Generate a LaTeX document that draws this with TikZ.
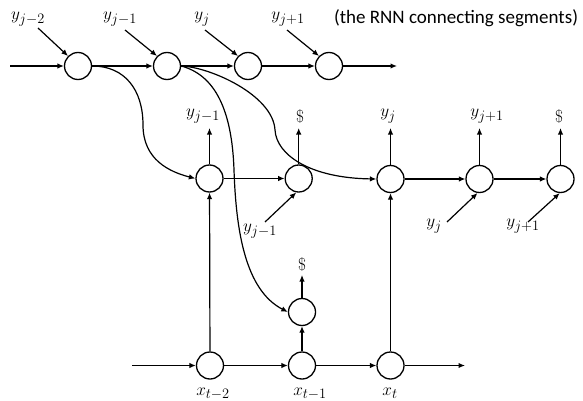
\documentclass[tikz,border=0pt]{standalone}
\usepackage{fontspec}
\newfontfamily\calib{Carlito}
\usetikzlibrary{arrows.meta}
\begin{document}
\begin{tikzpicture}[x=1pt,y=-1pt,
  cir/.style={circle,draw,line width=1.3pt,minimum size=27pt,inner sep=0pt},
  arr/.style={-{Latex[length=6.5pt,width=5.5pt]},line width=1.2pt},
  lab/.style={inner sep=0pt,font=\fontsize{19}{22}\selectfont},
  ttl/.style={inner sep=0pt,font=\calib\fontsize{19}{22}\selectfont}]
\useasboundingbox (0,0) rectangle (583,401);
% top row
\node[cir] (t1) at (78,66) {};
\node[cir] (t2) at (167,66) {};
\node[cir] (t3) at (248,66) {};
\node[cir] (t4) at (329,66) {};
% middle row
\node[cir] (m1) at (209.5,178.5) {};
\node[cir] (m2) at (298.7,178.5) {};
\node[cir] (m3) at (390.5,179) {};
\node[cir] (m4) at (479.5,179) {};
\node[cir] (m5) at (560.5,179) {};
% small
\node[cir] (s) at (302,312) {};
% bottom row
\node[cir] (b1) at (210,365.5) {};
\node[cir] (b2) at (302,365.5) {};
\node[cir] (b3) at (390.5,365.5) {};
% labels top
\node[lab] (ly1) at (28,19) {$y_{j-2}$};
\node[lab] (ly2) at (120,19) {$y_{j-1}$};
\node[lab] (ly3) at (202,19) {$y_{j}$};
\node[lab] (ly4) at (288,19) {$y_{j+1}$};
\node[ttl] (title) at (456,18) {(the RNN connecting segments)};
% labels middle top
\node[lab] (lm1) at (203,116) {$y_{j-1}$};
\node[lab] (lm2) at (300,117) {$\$$};
\node[lab] (lm3) at (388,116) {$y_{j}$};
\node[lab] (lm4) at (487,116) {$y_{j+1}$};
\node[lab] (lm5) at (559,116) {$\$$};
% labels middle bottom
\node[lab] (ln2) at (260,231) {$y_{j-1}$};
\node[lab] (ln4) at (434,226) {$y_{j}$};
\node[lab] (ln5) at (523,226) {$y_{j+1}$};
% labels bottom
\node[lab] (ls) at (302,264) {$\$$};
\node[lab] (lb1) at (213,394) {$x_{t-2}$};
\node[lab] (lb2) at (310,394) {$x_{t-1}$};
\node[lab] (lb3) at (390,393) {$x_{t}$};
% coordinates
\coordinate (tin) at (10,66);
\coordinate (tout) at (397,66);
\coordinate (bin) at (132,365.5);
\coordinate (bout) at (465,365.5);
\coordinate (d1) at (38,28);
\coordinate (d2) at (125,30);
\coordinate (d3) at (205,30);
\coordinate (d4) at (287,30);
\coordinate (e2) at (265,222);
\coordinate (e4) at (447,222);
\coordinate (e5) at (528,222);
\coordinate (u1) at (209.5,128);
\coordinate (u2) at (298.7,128);
\coordinate (u3) at (390.5,128);
\coordinate (u4) at (479.5,128);
\coordinate (u5) at (560.5,128);
\coordinate (us) at (302,275);
% top row arrows
\draw[arr] (tin) -- (t1);
\draw[arr] (t1) -- (t2);
\draw[arr] (t2) -- (t3);
\draw[arr] (t3) -- (t4);
\draw[arr] (t4) -- (tout);
\draw[arr] (d1) -- (t1.135);
\draw[arr] (d2) -- (t2.135);
\draw[arr] (d3) -- (t3.135);
\draw[arr] (d4) -- (t4.135);
% middle row
\draw[arr] (m1) -- (m2);
\draw[arr] (m3) -- (m4);
\draw[arr] (m4) -- (m5);
\draw[arr] (m1) -- (u1);
\draw[arr] (m2) -- (u2);
\draw[arr] (m3) -- (u3);
\draw[arr] (m4) -- (u4);
\draw[arr] (m5) -- (u5);
\draw[arr] (e2) -- (m2.-100);
\draw[arr] (e4) -- (m4.-98);
\draw[arr] (e5) -- (m5.-93);
% bottom row
\draw[arr] (bin) -- (b1);
\draw[arr] (b1) -- (b2);
\draw[arr] (b2) -- (b3);
\draw[arr] (b3) -- (bout);
\draw[arr] (b1) -- (m1);
\draw[arr] (b3) -- (m3);
\draw[arr] (b2) -- (s);
\draw[arr] (s) -- (us);
% curves
\draw[arr] (t1.east) .. controls (125,66) and (143,90) .. (143,125)
  .. controls (143,160) and (170,172) .. (m1.west);
\draw[arr] (t2.east) .. controls (215,75) and (232,110) .. (234,170)
  .. controls (236,230) and (245,290) .. (s.west);
\draw[arr] (t2.east) .. controls (210,67) and (273,95) .. (275,130)
  .. controls (276.5,155) and (310,178) .. (m3.west);
\end{tikzpicture}
\end{document}
